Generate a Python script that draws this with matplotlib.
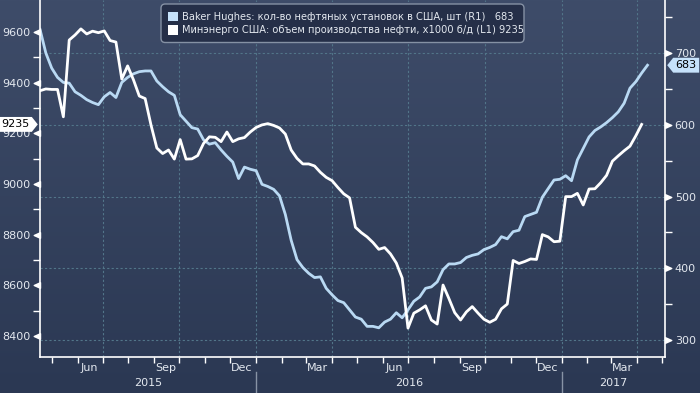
import numpy as np
import pandas as pd
import matplotlib
matplotlib.use("Agg")
import matplotlib.pyplot as plt
import matplotlib.dates as mdates
from matplotlib.path import Path
from matplotlib.patches import FancyBboxPatch, Rectangle
from matplotlib.colors import LinearSegmentedColormap

# weekly data, first point 17 Apr 2015
start = "2015-04-17"

# Baker Hughes oil rigs, units (right axis)
rigs = [733, 700, 679, 666, 659, 658, 646, 641, 635, 631,
        628, 639, 645, 638, 659, 666, 671, 674, 675, 675,
        661, 653, 646, 641, 614, 605, 596, 594, 579, 573,
        575, 565, 556, 548, 525, 541, 538, 536, 517, 514,
        510, 501, 475, 439, 412, 401, 393, 387, 388, 372,
        363, 355, 352, 342, 332, 329, 319, 319, 317, 325,
        329, 338, 331, 342, 354, 360, 372, 374, 381, 398,
        406, 406, 408, 415, 418, 420, 426, 429, 433, 444,
        441, 451, 453, 472, 475, 478, 499, 511, 523, 524,
        529, 522, 551, 567, 583, 592, 597, 603, 610, 618,
        630, 651, 660, 672, 683]

# EIA crude output, thousand b/d (left axis)
output = [9368, 9375, 9373, 9373, 9265, 9568, 9588, 9612, 9592, 9603,
          9597, 9604, 9566, 9560, 9414, 9466, 9411, 9347, 9337, 9233,
          9142, 9120, 9134, 9098, 9175, 9098, 9099, 9112, 9160, 9186,
          9184, 9167, 9205, 9167, 9178, 9183, 9205, 9223, 9233, 9238,
          9231, 9221, 9197, 9134, 9101, 9079, 9079, 9071, 9046, 9026,
          9013, 8986, 8961, 8945, 8829, 8808, 8791, 8769, 8742, 8749,
          8724, 8688, 8629, 8431, 8490, 8503, 8519, 8463, 8447, 8601,
          8548, 8492, 8463, 8495, 8516, 8490, 8466, 8454, 8466, 8507,
          8526, 8698, 8686, 8694, 8704, 8702, 8800, 8791, 8772, 8774,
          8950, 8950, 8963, 8917, 8980, 8981, 9005, 9034, 9090, 9111,
          9131, 9149, 9190, 9235]

label_rigs = "Baker Hughes: кол-во нефтяных установок в США, шт (R1)"
label_out = "Минэнерго США: объем производства нефти, x1000 б/д (L1)"

rig_dates = pd.date_range(start, periods=len(rigs), freq="7D")
out_dates = pd.date_range(start, periods=len(output), freq="7D")

txt = "#e3e8ef"
gridc = "#527589"
blue = "#b9d9f3"


def tag_right(x0, y0, w, h, mutation_size):
    # value tag with a point on the right side
    pad = 0.22 * mutation_size
    x0, y0, w, h = x0 - pad, y0 - pad, w + 2 * pad, h + 2 * pad
    tip = h * 0.4
    return Path([(x0, y0), (x0 + w, y0), (x0 + w + tip, y0 + h / 2),
                 (x0 + w, y0 + h), (x0, y0 + h), (x0, y0)], closed=True)


def tag_left(x0, y0, w, h, mutation_size):
    pad = 0.22 * mutation_size
    x0, y0, w, h = x0 - pad, y0 - pad, w + 2 * pad, h + 2 * pad
    tip = h * 0.4
    return Path([(x0, y0), (x0 + w, y0), (x0 + w, y0 + h), (x0, y0 + h),
                 (x0 - tip, y0 + h / 2), (x0, y0)], closed=True)


fig = plt.figure(figsize=(7, 3.93), dpi=100)

# background gradient
bg = fig.add_axes([0, 0, 1, 1], zorder=-10)
bg.axis("off")
cmap = LinearSegmentedColormap.from_list("bg", ["#3e4c69", "#2b3853"])
bg.imshow(np.linspace(0, 1, 256)[:, None], aspect="auto", cmap=cmap, extent=[0, 1, 0, 1])

ax = fig.add_axes([40 / 700, 1 - 357 / 393, 625 / 700, 357 / 393])
ax.patch.set_visible(False)
ax2 = ax.twinx()
ax.set_zorder(ax2.get_zorder() + 1)

ax2.plot(rig_dates, rigs, color=blue, lw=2, solid_joinstyle="round")
ax.plot(out_dates, output, color="white", lw=2, solid_joinstyle="round")

ax.set_xlim(pd.Timestamp("2015-04-17"), pd.Timestamp("2017-05-05"))
ax.set_ylim(8317, 9726)
ax2.set_ylim(276.3, 773.9)

ax.set_yticks(range(8400, 9601, 200))
ax.set_yticks(range(8500, 9700, 200), minor=True)
ax2.set_yticks(range(300, 701, 100))
ax2.set_yticks(range(350, 751, 100), minor=True)

# grid
ax2.grid(axis="y", which="major", color=gridc, ls=(0, (2, 2)), lw=0.8)
for d in pd.date_range("2015-07-01", "2017-04-01", freq="QS"):
    ax2.axvline(d, color=gridc, ls=(0, (2, 2)), lw=0.8, zorder=1)

# x axis
ax.xaxis.set_major_locator(mdates.MonthLocator(bymonth=[3, 6, 9, 12], bymonthday=15))
ax.xaxis.set_major_formatter(mdates.DateFormatter("%b"))
ax.xaxis.set_minor_locator(mdates.MonthLocator())
ax.tick_params(axis="x", which="major", length=0, pad=4, labelsize=8, labelcolor=txt)
ax.tick_params(axis="x", which="minor", length=4, width=1, color="white", direction="out")

ax.tick_params(axis="y", which="major", length=6, width=1, color="white",
               labelcolor=txt, labelsize=8, pad=1)
ax.tick_params(axis="y", which="minor", length=5, width=1, color="white")
ax2.tick_params(axis="y", which="major", length=6, width=1, color="white",
                labelcolor=txt, labelsize=8, pad=1)
ax2.tick_params(axis="y", which="minor", length=5, width=1, color="white")

for a in (ax, ax2):
    a.spines["top"].set_visible(False)
    for s in a.spines.values():
        s.set_color("white")
        s.set_linewidth(1.2)
ax.spines["right"].set_visible(False)
ax2.spines["left"].set_visible(False)
ax2.spines["bottom"].set_visible(False)

# triangle tick marks
left_tri = Path([(0, 0.45), (-1, 0), (0, -0.45), (0, 0.45)],
                [Path.MOVETO, Path.LINETO, Path.LINETO, Path.CLOSEPOLY])
right_tri = Path([(0, 0.45), (1, 0), (0, -0.45), (0, 0.45)],
                 [Path.MOVETO, Path.LINETO, Path.LINETO, Path.CLOSEPOLY])
for t in ax.yaxis.get_major_ticks():
    t.tick1line.set_marker(left_tri)
    t.tick1line.set_markersize(9)
    t.tick1line.set_markerfacecolor("white")
for t in ax2.yaxis.get_major_ticks():
    t.tick2line.set_marker(right_tri)
    t.tick2line.set_markersize(9)
    t.tick2line.set_markerfacecolor("white")

# years under the months
x0, x1 = [mdates.num2date(v).replace(tzinfo=None) for v in ax.get_xlim()]
for yr in (2015, 2016, 2017):
    a = max(pd.Timestamp(f"{yr}-01-01"), pd.Timestamp(x0))
    b = min(pd.Timestamp(f"{yr + 1}-01-01"), pd.Timestamp(x1))
    mid = a + (b - a) / 2
    ax.text(mid, -0.073, str(yr), transform=ax.get_xaxis_transform(),
            ha="center", va="center", fontsize=8, color=txt)
for yr in (2016, 2017):
    d = pd.Timestamp(f"{yr}-01-01")
    ax.plot([d, d], [-0.043, -0.11], transform=ax.get_xaxis_transform(),
            clip_on=False, color="#8793a5", lw=1)

# last value tags
ax.text(-0.017, output[-1], str(output[-1]), transform=ax.get_yaxis_transform(),
        ha="right", va="center", fontsize=8, color="black",
        bbox=dict(boxstyle=tag_right, fc="white", ec="none"))
ax2.text(1.017, rigs[-1], str(rigs[-1]), transform=ax2.get_yaxis_transform(),
         ha="left", va="center", fontsize=8, color="black",
         bbox=dict(boxstyle=tag_left, fc="#c6e2fb", ec="none"))

# legend box
W, H = 700, 393
box = FancyBboxPatch((161 / W, 1 - 42.5 / H), (524 - 161) / W, 38.5 / H,
                     boxstyle="round,pad=0,rounding_size=0.006",
                     mutation_aspect=W / H, transform=fig.transFigure,
                     fc="#252f48", ec="#8591a4", lw=1, zorder=5)
fig.add_artist(box)
rows = [(label_rigs + "   " + str(rigs[-1]), "#c6e2fb", 16.5),
        (label_out + " " + str(output[-1]), "white", 30.0)]
for text, col, yc in rows:
    fig.add_artist(Rectangle((168 / W, 1 - (yc + 4.5) / H), 10 / W, 9 / H,
                             transform=fig.transFigure, fc=col, ec="none", zorder=6))
    fig.text(182 / W, 1 - yc / H, text, va="center", ha="left",
             fontsize=7.1, color=txt, zorder=7)

fig.savefig("out.png", dpi=100)
